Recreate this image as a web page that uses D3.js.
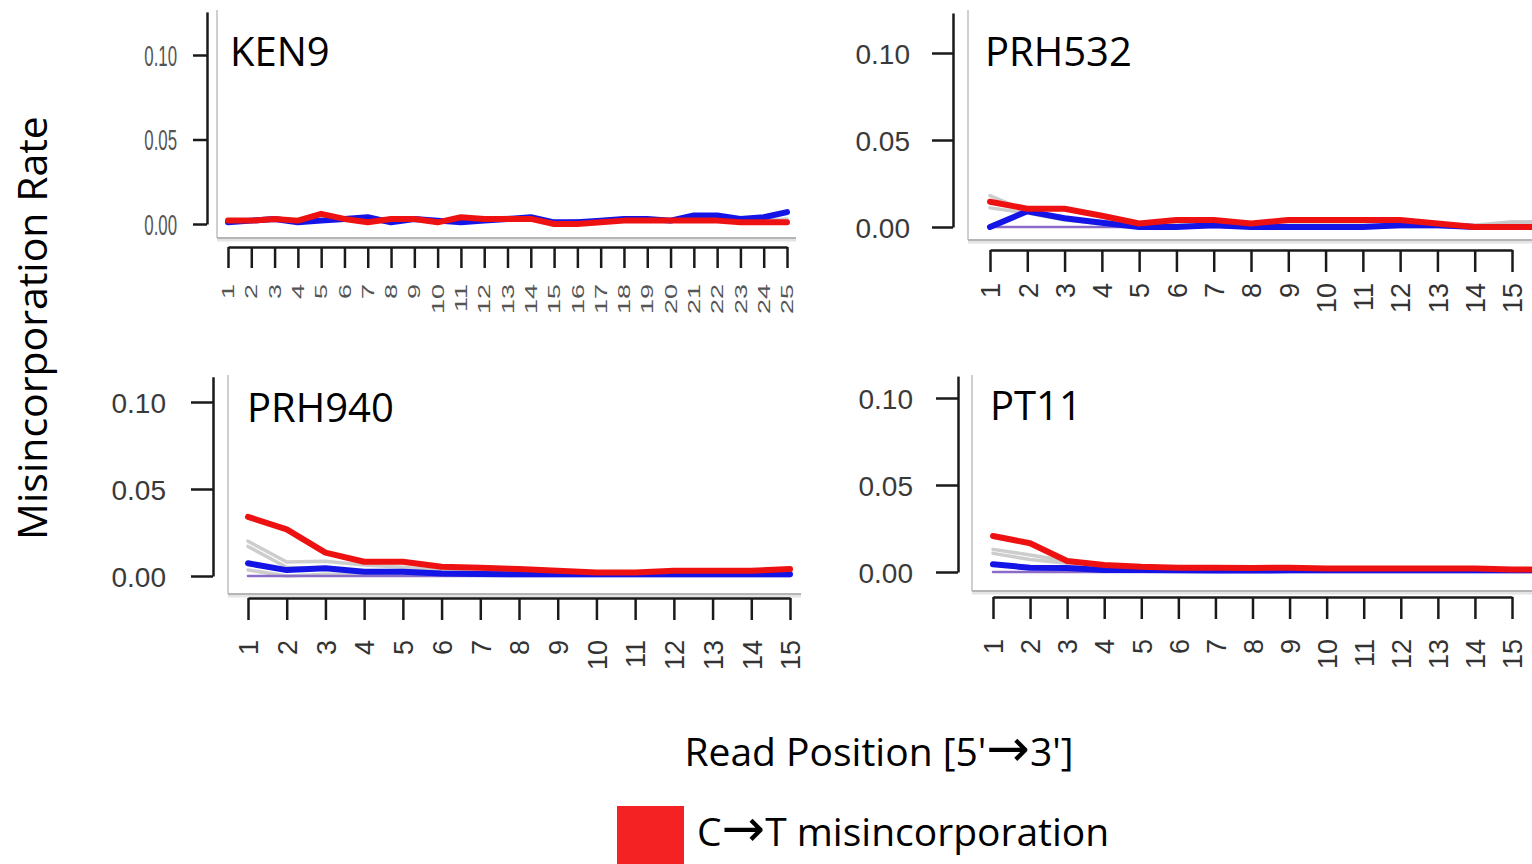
<!DOCTYPE html>
<html>
<head>
<meta charset="utf-8">
<script src="https://cdn.jsdelivr.net/npm/d3@7/dist/d3.min.js"></script>
<style>
  body { margin: 0; background: #fff; overflow: hidden; }
  svg { display: block; }
</style>
</head>
<body>
<svg id="chart" width="1532" height="864"></svg>
<script>
// read positions (x categories)
const pos25 = [1, 2, 3, 4, 5, 6, 7, 8, 9, 10, 11, 12, 13, 14, 15, 16, 17, 18, 19, 20, 21, 22, 23, 24, 25];
const pos16 = [1, 2, 3, 4, 5, 6, 7, 8, 9, 10, 11, 12, 13, 14, 15, 16];
const pos15 = [1, 2, 3, 4, 5, 6, 7, 8, 9, 10, 11, 12, 13, 14, 15];
const yTicks = [0, 0.05, 0.10];

// KEN9
const ken9Gray = [0.002, 0.002, 0.003, 0.002, 0.003, 0.003, 0.003, 0.002, 0.003, 0.002, 0.003, 0.003, 0.004, 0.003, 0.001, 0.002, 0.001, 0.002, 0.002, 0.002, 0.003, 0.003, 0.002, 0.002, 0.003];
const ken9Blue = [0.001, 0.002, 0.003, 0.001, 0.002, 0.003, 0.004, 0.001, 0.003, 0.002, 0.001, 0.002, 0.003, 0.004, 0.001, 0.001, 0.002, 0.003, 0.003, 0.002, 0.005, 0.005, 0.003, 0.004, 0.007];
const ken9Red = [0.002, 0.002, 0.003, 0.002, 0.006, 0.003, 0.001, 0.003, 0.003, 0.001, 0.004, 0.003, 0.003, 0.003, 0.000, 0.000, 0.001, 0.002, 0.002, 0.002, 0.002, 0.002, 0.001, 0.001, 0.001];

// PRH532
const prh532Gray1 = [0.018, 0.009, 0.005, 0.003, 0.002, 0.002, 0.002, 0.001, 0.001, 0.001, 0.001, 0.001, 0.001, 0.001, 0.003, 0.003];
const prh532Gray2 = [0.011, 0.008, 0.004, 0.002, 0.001, 0.001, 0.001, 0.001, 0.001, 0.001, 0.001, 0.001, 0.001, 0.001, 0.002, 0.002];
const prh532Purple = [0, 0, 0, 0, 0, 0, 0, 0, 0, 0, 0, 0, 0, 0, 0, 0];
const prh532Blue = [0.000, 0.009, 0.005, 0.0025, 0.000, 0.000, 0.001, 0.000, 0.000, 0.000, 0.000, 0.001, 0.001, 0.000, 0.000, 0.000];
const prh532Red = [0.0145, 0.0105, 0.0105, 0.0065, 0.002, 0.004, 0.004, 0.002, 0.004, 0.004, 0.004, 0.004, 0.002, 0.000, 0.000, 0.000];

// PRH940
const prh940Gray1 = [0.020, 0.008, 0.0085, 0.0063, 0.005, 0.003, 0.003, 0.002, 0.002, 0.002, 0.002, 0.003, 0.003, 0.002, 0.002];
const prh940Gray2 = [0.017, 0.005, 0.004, 0.003, 0.003, 0.002, 0.002, 0.002, 0.001, 0.001, 0.001, 0.002, 0.002, 0.001, 0.001];
const prh940Gray3 = [0.0035, 0.000, 0.001, 0.001, 0.001, 0.001, 0.001, 0.001, 0.001, 0.001, 0.001, 0.001, 0.001, 0.001, 0.001];
const prh940Purple = [0, 0, 0, 0, 0, 0, 0, 0, 0, 0, 0, 0, 0, 0, 0];
const prh940Blue = [0.0073, 0.0034, 0.0044, 0.0025, 0.0025, 0.0015, 0.0012, 0.001, 0.001, 0.001, 0.001, 0.001, 0.001, 0.001, 0.001];
const prh940Red = [0.034, 0.0268, 0.0134, 0.0082, 0.0082, 0.0053, 0.0048, 0.004, 0.003, 0.002, 0.002, 0.003, 0.003, 0.003, 0.004];

// PT11
const pt11Gray1 = [0.013, 0.0098, 0.0063, 0.003, 0.002, 0.002, 0.002, 0.002, 0.002, 0.001, 0.001, 0.001, 0.001, 0.001, 0.001, 0.001];
const pt11Gray2 = [0.0107, 0.0072, 0.005, 0.002, 0.001, 0.001, 0.001, 0.001, 0.001, 0.001, 0.001, 0.001, 0.001, 0.001, 0.001, 0.001];
const pt11Purple = [0, 0, 0, 0, 0, 0, 0, 0, 0, 0, 0, 0, 0, 0, 0, 0];
const pt11Blue = [0.0044, 0.0025, 0.0023, 0.0011, 0.0011, 0.001, 0.0008, 0.0008, 0.001, 0.001, 0.001, 0.001, 0.001, 0.001, 0.001, 0.001];
const pt11Red = [0.0207, 0.0165, 0.0063, 0.004, 0.003, 0.0025, 0.0025, 0.0023, 0.0025, 0.002, 0.002, 0.002, 0.002, 0.002, 0.0015, 0.0015];

const grayStyle = { color: '#c4c4c4', width: 3.5 };
const purpleStyle = { color: '#8a6cc8', width: 2.5 };
const blueStyle = { color: '#1414e6', width: 6 };
const redStyle = { color: '#ee1111', width: 6 };

const panels = [
  {
    name: 'KEN9', positions: pos25, ticks: pos25,
    series: [[ken9Gray, grayStyle], [ken9Blue, blueStyle], [ken9Red, redStyle]],
    yAxisX: 207, yZero: 224, yTen: 55, yTop: 0.1255, tickLen: 14, yLabelGap: 30, tickFont: 29, squash: 0.58,
    xFirst: 228, xLast: 787, lastIdx: 25, axisY: 247, xTickLen: 21, labelTop: 284, labelFont: 27,
    boxLeft: 217, boxTop: 10, boxBottom: 238, boxRight: 796,
    titleX: 230, titleY: 66
  },
  {
    name: 'PRH532', positions: pos16, ticks: pos15,
    series: [[prh532Gray1, grayStyle], [prh532Gray2, grayStyle], [prh532Purple, purpleStyle], [prh532Blue, blueStyle], [prh532Red, redStyle]],
    yAxisX: 953, yZero: 227, yTen: 53, yTop: 0.123, tickLen: 21, yLabelGap: 43, tickFont: 28, squash: 1,
    xFirst: 990, xLast: 1512, lastIdx: 15, axisY: 250, xTickLen: 22, labelTop: 283, labelFont: 27,
    boxLeft: 968, boxTop: 10, boxBottom: 240, boxRight: 1532,
    titleX: 985, titleY: 66
  },
  {
    name: 'PRH940', positions: pos15, ticks: pos15,
    series: [[prh940Gray1, grayStyle], [prh940Gray2, grayStyle], [prh940Gray3, grayStyle], [prh940Purple, purpleStyle], [prh940Blue, blueStyle], [prh940Red, redStyle]],
    yAxisX: 213, yZero: 576, yTen: 402, yTop: 0.1145, tickLen: 22, yLabelGap: 47, tickFont: 28, squash: 1,
    xFirst: 248, xLast: 790, lastIdx: 15, axisY: 598, xTickLen: 22, labelTop: 640, labelFont: 27,
    boxLeft: 228, boxTop: 375, boxBottom: 594, boxRight: 801,
    titleX: 247, titleY: 422
  },
  {
    name: 'PT11', positions: pos16, ticks: pos15,
    series: [[pt11Gray1, grayStyle], [pt11Gray2, grayStyle], [pt11Purple, purpleStyle], [pt11Blue, blueStyle], [pt11Red, redStyle]],
    yAxisX: 958, yZero: 572, yTen: 398, yTop: 0.1126, tickLen: 22, yLabelGap: 45, tickFont: 28, squash: 1,
    xFirst: 993, xLast: 1512, lastIdx: 15, axisY: 597, xTickLen: 22, labelTop: 639, labelFont: 27,
    boxLeft: 972, boxTop: 375, boxBottom: 591, boxRight: 1532,
    titleX: 990, titleY: 420
  }
];

const svg = d3.select('#chart');
const sansFont = "'Open Sans', 'Noto Sans', sans-serif";
const arrowFont = "'DejaVu Sans', sans-serif";
const arrowSize = '52px';
const tickFontFamily = "'Liberation Sans', Arial, sans-serif";

panels.forEach((p) => {
  const g = svg.append('g');

  const yPerUnit = (p.yZero - p.yTen) / 0.1;
  const y = d3.scaleLinear()
    .domain([0, p.yTop])
    .range([p.yZero, p.yZero - p.yTop * yPerUnit]);

  const x = d3.scaleLinear()
    .domain([1, p.lastIdx])
    .range([p.xFirst, p.xLast]);

  // plot frame (left and bottom edges, light gray with soft shadow)
  g.append('line')
    .attr('x1', p.boxLeft).attr('x2', p.boxLeft)
    .attr('y1', p.boxTop).attr('y2', p.boxBottom)
    .style('stroke', '#cfcfcf').style('stroke-width', 2);
  g.append('line')
    .attr('x1', p.boxLeft).attr('x2', p.boxRight)
    .attr('y1', p.boxBottom + 2).attr('y2', p.boxBottom + 2)
    .style('stroke', '#e4e4e4').style('stroke-width', 3);
  g.append('line')
    .attr('x1', p.boxLeft).attr('x2', p.boxRight)
    .attr('y1', p.boxBottom).attr('y2', p.boxBottom)
    .style('stroke', '#b5b5b5').style('stroke-width', 2);

  // y axis
  const yAxis = g.append('g')
    .attr('transform', `translate(${p.yAxisX},0)`)
    .call(d3.axisLeft(y).tickValues(yTicks).tickSize(p.tickLen).tickSizeOuter(0).tickFormat(d3.format('.2f')));
  yAxis.select('.domain').style('stroke', '#1a1a1a').style('stroke-width', 2.5);
  yAxis.selectAll('.tick line').style('stroke', '#1a1a1a').style('stroke-width', 2.5);
  yAxis.selectAll('.tick text')
    .attr('x', null).attr('dy', '0.36em')
    .attr('transform', `translate(${-p.yLabelGap},0) scale(${p.squash},1)`)
    .style('font-family', tickFontFamily)
    .style('font-size', p.tickFont + 'px')
    .style('fill', p.squash < 1 ? '#555' : '#3a3a3a')
    .attr('text-anchor', 'end');

  // x axis
  const xAxis = g.append('g')
    .attr('transform', `translate(0,${p.axisY})`)
    .call(d3.axisBottom(x).tickValues(p.ticks).tickSize(p.xTickLen).tickSizeOuter(0).tickFormat(d3.format('d')));
  xAxis.select('.domain').style('stroke', '#1a1a1a').style('stroke-width', 2.5);
  xAxis.selectAll('.tick line').style('stroke', '#1a1a1a').style('stroke-width', 2.5);
  xAxis.selectAll('.tick text')
    .attr('y', null).attr('dy', '0.36em')
    .attr('transform', `translate(0,${p.labelTop - p.axisY}) scale(${p.squash},1) rotate(-90)`)
    .attr('text-anchor', 'end')
    .style('font-family', tickFontFamily)
    .style('font-size', p.labelFont + 'px')
    .style('fill', p.squash < 1 ? '#555' : '#333');

  // lines
  const line = d3.line()
    .x((d) => x(d.pos))
    .y((d) => y(d.value));

  p.series.forEach(([values, style]) => {
    const data = values.map((v, i) => ({ pos: p.positions[i], value: v }));
    g.append('path')
      .datum(data)
      .attr('d', line)
      .style('fill', 'none')
      .style('stroke', style.color)
      .style('stroke-width', style.width)
      .style('stroke-linejoin', 'round')
      .style('stroke-linecap', 'round')
      .style('opacity', style === grayStyle ? 0.85 : 1);
  });

  // panel title
  g.append('text')
    .attr('x', p.titleX)
    .attr('y', p.titleY)
    .text(p.name)
    .style('font-family', sansFont)
    .style('font-size', '40px')
    .style('fill', '#000');
});

// shared axis titles
svg.append('text')
  .attr('transform', 'translate(47,328) rotate(-90)')
  .attr('text-anchor', 'middle')
  .text('Misincorporation Rate')
  .style('font-family', sansFont)
  .style('font-size', '41px')
  .style('fill', '#000');

const xTitle = svg.append('text')
  .attr('x', 879)
  .attr('y', 766)
  .attr('text-anchor', 'middle')
  .style('font-family', sansFont)
  .style('font-size', '39px')
  .style('fill', '#000');
xTitle.append('tspan').text("Read Position [5'");
xTitle.append('tspan').text('\u2192').style('font-family', arrowFont).style('font-size', arrowSize);
xTitle.append('tspan').text("3']");

// legend
const legendItems = [['C', '\u2192', 'T misincorporation']];
const legendColors = ['#f42222'];
const legend = svg.append('g').attr('transform', 'translate(617,806)');
legend.selectAll('rect')
  .data(legendItems)
  .enter()
  .append('rect')
  .attr('x', 0).attr('y', 0)
  .attr('width', 67).attr('height', 64)
  .style('fill', (d, i) => legendColors[i]);
const legendText = legend.selectAll('text')
  .data(legendItems)
  .enter()
  .append('text')
  .attr('x', 80).attr('y', 40)
  .style('font-family', sansFont)
  .style('font-size', '39px')
  .style('fill', '#000');
legendText.append('tspan').text((d) => d[0]);
legendText.append('tspan').text((d) => d[1]).style('font-family', arrowFont).style('font-size', arrowSize);
legendText.append('tspan').text((d) => d[2]);
</script>
</body>
</html>
